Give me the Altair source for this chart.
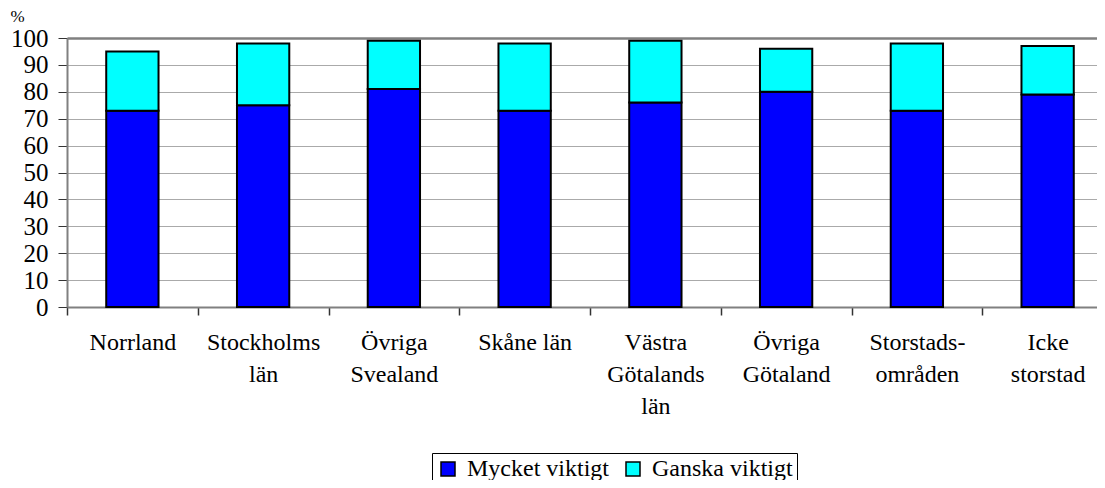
import altair as alt
import pandas as pd

regions = ["Norrland", "Stockholms\nlän", "Övriga\nSvealand", "Skåne län",
           "Västra\nGötalands\nlän", "Övriga\nGötaland", "Storstads-\nområden", "Icke\nstorstad"]
series = ["Mycket viktigt", "Ganska viktigt"]
mycket = [73, 75, 81, 73, 76, 80, 73, 79]
ganska = [22, 23, 18, 25, 23, 16, 25, 18]
colors = ["#0000FF", "#00FFFF"]
y_ticks = list(range(0, 101, 10))

rows = []
for r, m, g in zip(regions, mycket, ganska):
    rows.append({"region": r, "serie": series[0], "value": m, "ord": 0})
    rows.append({"region": r, "serie": series[1], "value": g, "ord": 1})
df = pd.DataFrame(rows)

FONT = "Liberation Serif, Times New Roman, serif"
cond = lambda a, b: {"condition": {"test": "datum.value === 100", "value": a}, "value": b}

chart = alt.Chart(df).mark_bar(
    stroke="black", strokeWidth=2, width=alt.RelativeBandSize(0.4)
).encode(
    x=alt.X("region:N", sort=regions,
            scale=alt.Scale(range=[0, 1046], paddingInner=0, paddingOuter=0),
            axis=alt.Axis(title=None, labelAngle=0, labelExpr="split(datum.label, '\\n')",
                          tickBand="extent", tickSize=8, tickColor="#333", tickWidth=1.5,
                          domainColor="#808080", domainWidth=2,
                          labelFont=FONT, labelFontSize=24, labelColor="black",
                          labelPadding=15, labelLineHeight=32, grid=False)),
    y=alt.Y("value:Q", stack="zero",
            scale=alt.Scale(domain=[0, 100], nice=False),
            axis=alt.Axis(values=y_ticks, title="%", titleAngle=0, titleAlign="left",
                          titleX=-57, titleY=-13, titleBaseline="bottom",
                          titleFont=FONT, titleFontSize=17, titleFontWeight="normal",
                          titleColor="black",
                          labelFont=FONT, labelFontSize=25, labelColor="black",
                          labelPadding=10, tickSize=9, tickColor="#333",
                          domainColor="#808080", domainWidth=2,
                          grid=True, gridColor=cond("#808080", "#555555"),
                          gridDash=cond([], [1, 1]), gridWidth=cond(2.5, 1))),
    fill=alt.Fill("serie:N", scale=alt.Scale(domain=series, range=colors),
                  legend=alt.Legend(orient="none", legendX=365, legendY=415,
                                    direction="horizontal", title=None,
                                    strokeColor="black", fillColor="white", padding=4,
                                    symbolType="square", symbolSize=196,
                                    symbolStrokeColor="black", symbolStrokeWidth=1.5,
                                    labelFont=FONT, labelFontSize=24, labelColor="black",
                                    columnPadding=12, labelOffset=7)),
    order=alt.Order("ord:Q", sort="ascending"),
).properties(
    width=1030, height=269,
    autosize=alt.AutoSizeParams(type="none"),
    padding={"left": 59, "top": 30, "right": 0, "bottom": 173},
).configure_view(stroke=None).configure(font=FONT)

chart.save("out.html", embed_options={"renderer": "svg", "actions": False})
